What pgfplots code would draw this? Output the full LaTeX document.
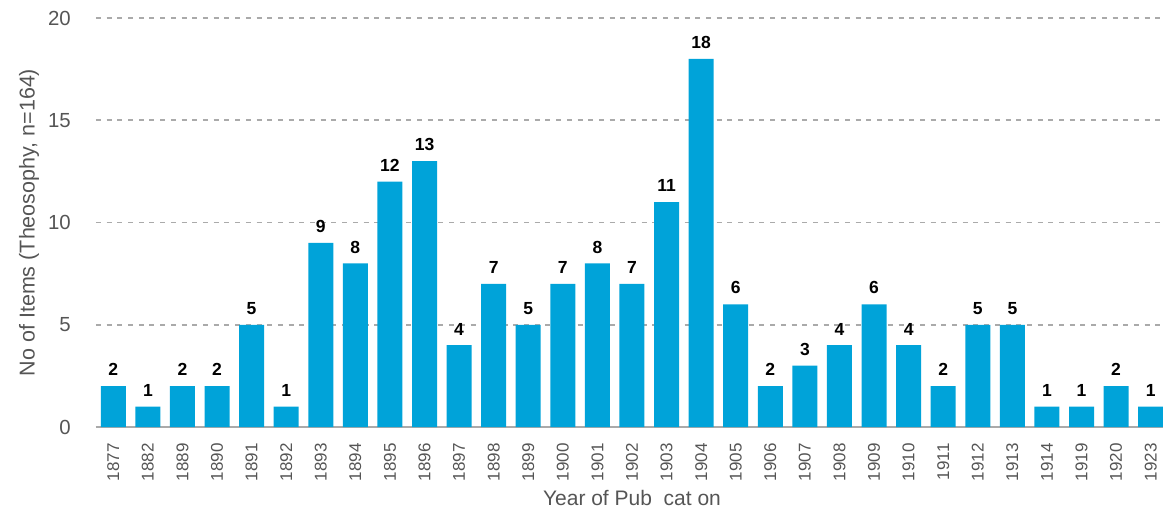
\documentclass[border=0pt]{standalone}
\usepackage{fontspec}
\setmainfont{Liberation Sans}
\usepackage{pgfplots}
\pgfplotsset{compat=1.18}
\definecolor{barblue}{HTML}{00A3D9}
\definecolor{txtgray}{HTML}{555555}
\definecolor{gridgray}{HTML}{AAAAAA}
\begin{document}
\begin{tikzpicture}
\useasboundingbox (-96bp,-87bp) rectangle (1067bp,427bp);
\begin{axis}[
  scale only axis,
  width=1072bp, height=409bp,
  xmin=-0.5, xmax=30.5, ymin=0, ymax=20,
  ybar, bar width=25bp, bar shift=0pt,
  xtick=data,
  xticklabels={1877,1882,1889,1890,1891,1892,1893,1894,1895,1896,1897,1898,1899,1900,1901,1902,1903,1904,1905,1906,1907,1908,1909,1910,1911,1912,1913,1914,1919,1920,1923},
  ytick={0,5,10,15,20},
  extra y ticks={0}, extra y tick labels={},
  extra y tick style={grid style={solid, draw=gridgray, line width=2.3bp, dash pattern=}},
  axis line style={draw=none},
  tick style={draw=none},
  ymajorgrids,
  grid style={draw=gridgray, line width=1.5bp, dash pattern=on 5bp off 5.7bp},
  /pgf/number format/assume math mode=true,
  xticklabel style={rotate=90, anchor=east, inner xsep=12bp, inner ysep=0pt, text=txtgray, font=\fontsize{17bp}{20bp}\selectfont},
  yticklabel style={anchor=east, inner xsep=25bp, inner ysep=0pt, text=txtgray, font=\fontsize{20.4bp}{23bp}\selectfont},
  xlabel={Year of Pub\ \ cat on},
  ylabel={No of Items (Theosophy, n=164)},
  xlabel style={at={(axis description cs:0.5,-0.1736)}, anchor=center, text=txtgray, font=\fontsize{21bp}{24bp}\selectfont},
  ylabel style={at={(axis description cs:-0.0625,0.5)}, anchor=center, text=txtgray, font=\fontsize{21.5bp}{24bp}\selectfont},
]
\addplot[fill=barblue, draw=none,
  nodes near coords,
  nodes near coords style={anchor=south, inner sep=0pt, yshift=10bp, text=black, font=\fontsize{17.5bp}{20bp}\selectfont\bfseries}]
coordinates {
(0,2) (1,1) (2,2) (3,2) (4,5) (5,1) (6,9) (7,8) (8,12) (9,13)
(10,4) (11,7) (12,5) (13,7) (14,8) (15,7) (16,11) (17,18) (18,6) (19,2)
(20,3) (21,4) (22,6) (23,4) (24,2) (25,5) (26,5) (27,1) (28,1) (29,2) (30,1)
};
\end{axis}
\end{tikzpicture}
\end{document}
